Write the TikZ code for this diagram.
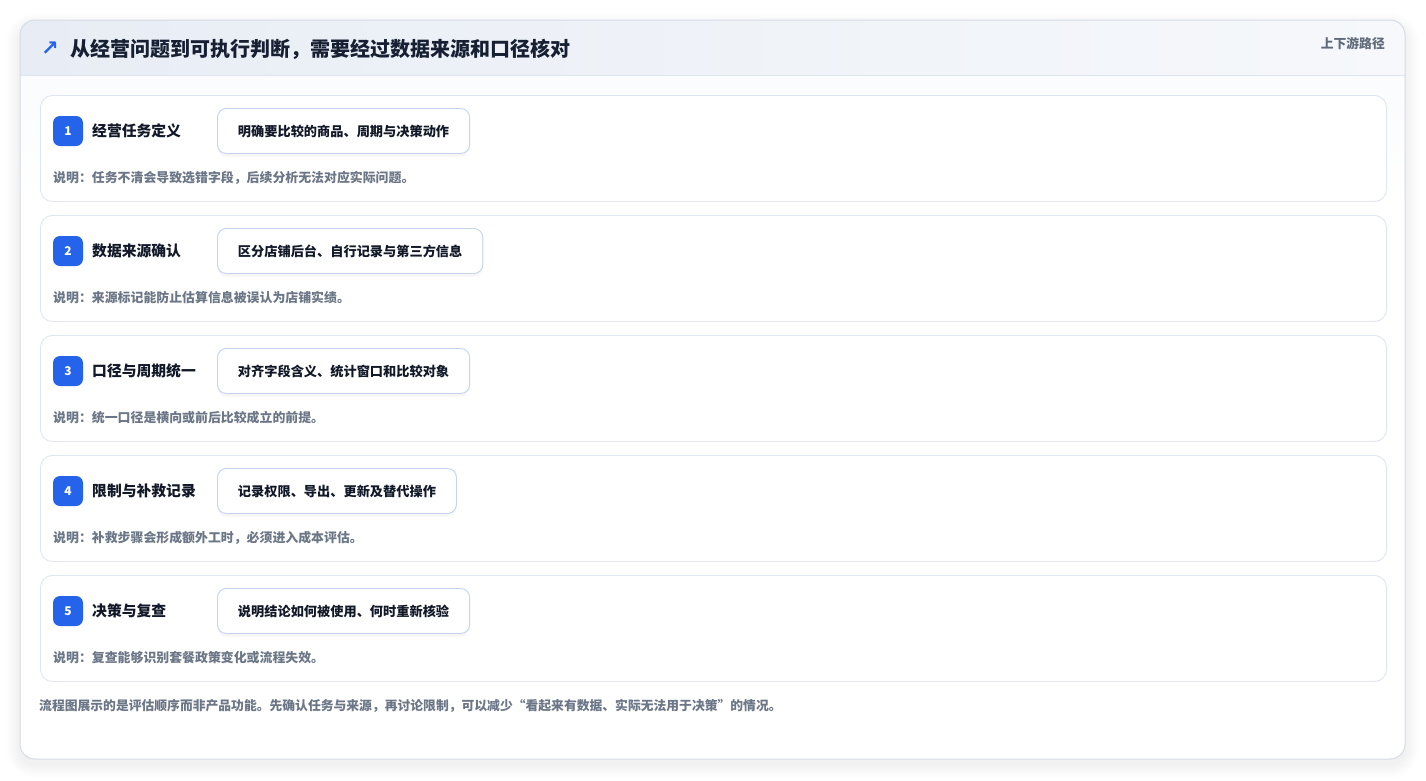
\documentclass[tikz,border=0pt]{standalone}
\usepackage{fontspec}
\setmainfont{Noto Sans CJK SC}
\newfontfamily\symfont{DejaVu Sans}
\usetikzlibrary{shadows}
\definecolor{cardline}{HTML}{D6DCE5}
\definecolor{headL}{HTML}{E8EDF5}
\definecolor{headR}{HTML}{F6F8FB}
\definecolor{headline}{HTML}{DCE5F0}
\definecolor{rowline}{HTML}{DEE6F1}
\definecolor{pillline}{HTML}{C3D4EC}
\definecolor{badgeblue}{HTML}{2563EB}
\definecolor{ink}{HTML}{111827}
\definecolor{titleink}{HTML}{172033}
\definecolor{muted}{HTML}{6B7686}
\definecolor{tagink}{HTML}{5F6B7B}
\tikzset{
  rowbox/.style={draw=rowline, line width=0.9pt, fill=white, rounded corners=12pt,
    minimum width=1346pt, minimum height=106pt, anchor=north west, inner sep=0pt},
  badge/.style={fill=badgeblue, rounded corners=7pt, minimum size=30pt, inner sep=0pt,
    text=white, font=\fontsize{12}{14}\selectfont\bfseries},
  steptitle/.style={anchor=west, inner sep=0pt, text=ink, font=\fontsize{14.8}{17}\selectfont\bfseries},
  pill/.style={anchor=west, draw=pillline, line width=0.9pt, fill=white, rounded corners=9pt,
    minimum height=45pt, inner xsep=20.5pt, text=ink, font=\fontsize{13.2}{15}\selectfont\bfseries,
    drop shadow={opacity=0.07, shadow xshift=0pt, shadow yshift=-3pt}},
  desc/.style={anchor=west, inner sep=0pt, text=muted, font=\fontsize{12.9}{15}\selectfont\bfseries},
}
\begin{document}
\begin{tikzpicture}[x=1pt,y=-1pt]
\useasboundingbox (0,0) rectangle (1426,780);
\fill[white] (0,0) rectangle (1426,780);
% soft shadow of the card
\foreach \i in {1,...,14}{
  \fill[black, opacity=0.0055, rounded corners=15pt+\i pt] (20-\i,22-\i+5) rectangle (1405+\i,759+\i+5);
}
% card
\fill[white, rounded corners=15pt] (20,20) rectangle (1405,759);
\begin{scope}
  \clip[rounded corners=15pt] (20,20) rectangle (1405,759);
  \shade[left color=headL, right color=headR] (20,20) rectangle (1405,75);
  \fill[white!60!headR] (20,75) rectangle (1405,110);
  \shade[top color=white!60!headR, bottom color=white] (20,110) rectangle (1405,200);
\end{scope}
\draw[headline, line width=0.9pt] (20,75) -- (1405,75);
\draw[cardline, line width=1pt, rounded corners=15pt] (20,20) rectangle (1405,759);
% header
\node[anchor=west, inner sep=0pt, text=badgeblue, font=\symfont\fontsize{21}{23}\selectfont\bfseries] (icon) at (41,49) {↗};
\node[anchor=west, inner sep=0pt, text=titleink, font=\fontsize{20}{23}\selectfont\bfseries] (title) at (70,49) {从经营问题到可执行判断，需要经过数据来源和口径核对};
\node[anchor=east, inner sep=0pt, text=tagink, font=\fontsize{12.8}{14}\selectfont\bfseries] (tag) at (1385,44) {上下游路径};
% rows
\foreach \n/\t/\p/\d [count=\k from 0] in {
  1/经营任务定义/明确要比较的商品、周期与决策动作/说明：任务不清会导致选错字段，后续分析无法对应实际问题。,
  2/数据来源确认/区分店铺后台、自行记录与第三方信息/说明：来源标记能防止估算信息被误认为店铺实绩。,
  3/口径与周期统一/对齐字段含义、统计窗口和比较对象/说明：统一口径是横向或前后比较成立的前提。,
  4/限制与补救记录/记录权限、导出、更新及替代操作/说明：补救步骤会形成额外工时，必须进入成本评估。,
  5/决策与复查/说明结论如何被使用、何时重新核验/说明：复查能够识别套餐政策变化或流程失效。}{
  \pgfmathsetmacro{\yy}{95+120*\k}
  \node[rowbox] (row\n) at (40,\yy) {};
  \node[badge] (badge\n) at (68,\yy+36) {\n};
  \node[steptitle] (title\n) at (92,\yy+36) {\t};
  \node[pill] (pill\n) at (217,\yy+36) {\p};
  \node[desc] (desc\n) at (53,\yy+83) {\d};
}
% footer
\node[anchor=west, inner sep=0pt, text=muted, font=\fontsize{12.8}{15}\selectfont\bfseries] (footer) at (39,706) {流程图展示的是评估顺序而非产品功能。先确认任务与来源，再讨论限制，可以减少“看起来有数据、实际无法用于决策”的情况。};
\end{tikzpicture}
\end{document}
